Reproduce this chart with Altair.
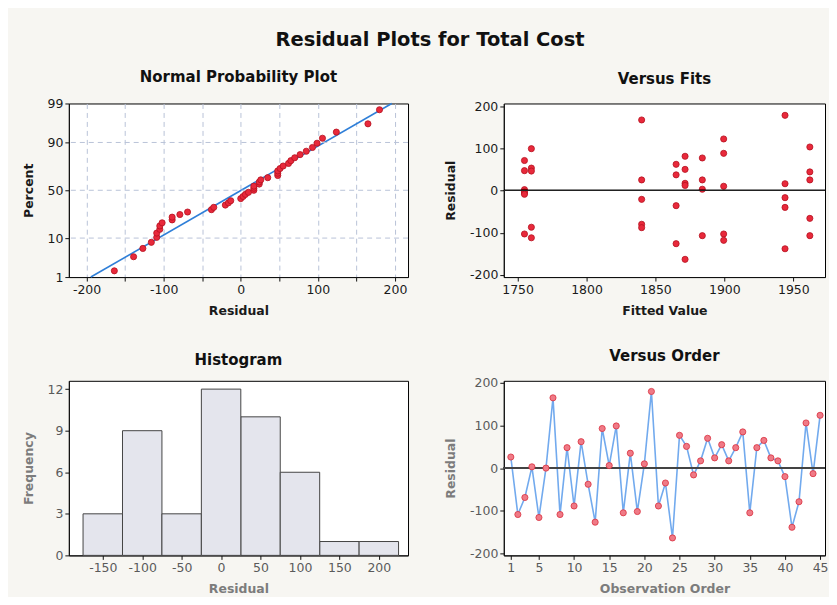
import altair as alt
import pandas as pd
import numpy as np
from statistics import NormalDist

FONT = "DejaVu Sans"

# Residuals in observation order (read from "Versus Order")
order_resid = [26, -109, -69, 3, -116, 0, 165, -109, 48, -89, 62, -38, -127, 93, 6,
               99, -105, 35, -102, 10, 180, -89, -35, -164, 77, 51, -16, 17, 70, 24,
               55, 17, 48, 85, -105, 48, 65, 24, 17, -20, -139, -79, 106, -13, 124]
order_idx = list(range(1, len(order_resid) + 1))

# Versus Fits
fits_x = [1755] * 7 + [1760] * 5 + [1840] * 5 + [1865] * 4 + [1871.5] * 5 + [1884] * 4 \
         + [1899.5] * 5 + [1944] * 5 + [1962] * 5
fits_resid = [71, 47, 2, -3, -6, -9, -103,
              99, 53, 46, -87, -112,
              167, 25, -21, -80, -88,
              62, 37, -36, -126,
              81, 50, 17, 12, -163,
              77, 25, 3, -107,
              122, 88, 10, -103, -118,
              178, 16, -17, -40, -138,
              103, 44, 25, -66, -107]

pct_ticks = [1, 10, 50, 90, 99]
pct_grid = [10, 50, 90]
np_x_ticks = [-200, -150, -100, -50, 0, 50, 100, 150, 200]
hist_ticks = [-150, -100, -50, 0, 50, 100, 150, 200]
order_ticks = [1, 5, 10, 15, 20, 25, 30, 35, 40, 45]
resid_ticks = [-200, -100, 0, 100, 200]
fit_ticks = [1750, 1800, 1850, 1900, 1950]

nd = NormalDist()
n = len(order_resid)
srt = sorted(order_resid)
np_df = pd.DataFrame({"resid": srt,
                      "z": [nd.inv_cdf((i + 1 - 0.3) / (n + 0.4)) for i in range(n)]})
mu = float(np.mean(order_resid))
sd = float(np.std(order_resid, ddof=1))
zlo, zhi = nd.inv_cdf(0.01), nd.inv_cdf(0.99)
line_df = pd.DataFrame({"resid": [mu + zlo * sd, mu + zhi * sd], "z": [zlo, zhi]})
pct_z = [nd.inv_cdf(p / 100) for p in pct_ticks]
grid_df = pd.DataFrame({"z": [nd.inv_cdf(p / 100) for p in pct_grid]})

order_df = pd.DataFrame({"obs": order_idx, "resid": order_resid})
fits_df = pd.DataFrame({"fit": fits_x, "resid": fits_resid})

RED = "#e8293b"
RED_DARK = "#b5121f"
BLUE = "#2f7fd8"
LBLUE = "#72aaee"
GRID = "#b9c3d8"
FADE_LABEL = "#5a5a5a"
FADE_TITLE = "#7c7c7c"

LW = 340
RW = 322
H1 = 174
H2 = 175

MINUS = "replace(datum.label, '\u2212', '-')"


def ptitle(t):
    return alt.TitleParams(t, fontSize=15, font=FONT, fontWeight="bold", color="#111", offset=13)


# ---------- Normal probability plot ----------
np_x = alt.X("resid:Q", scale=alt.Scale(domain=[-223, 217], nice=False, zero=False),
             axis=alt.Axis(values=np_x_ticks, grid=True, gridDash=[5, 4], gridColor=GRID,
                           labelExpr="datum.value % 100 == 0 ? " + MINUS + " : ''",
                           title="Residual"))
np_y = alt.Y("z:Q", scale=alt.Scale(domain=[zlo, zhi], nice=False, zero=False),
             axis=alt.Axis(values=pct_z, grid=False,
                           labelExpr="datum.value < -1.8 ? '1' : datum.value < -0.6 ? '10' : datum.value < 0.6 ? '50' : datum.value < 1.8 ? '90' : '99'",
                           title="Percent"))
np_grid = alt.Chart(grid_df).mark_rule(color=GRID, strokeDash=[5, 4], strokeWidth=1).encode(y="z:Q")
np_line = alt.Chart(line_df).mark_line(color=BLUE, strokeWidth=1.6).encode(x=np_x, y=np_y)
np_pts = alt.Chart(np_df).mark_point(filled=True, shape="circle", size=38, color=RED,
                                     stroke=RED_DARK, strokeWidth=0.8, opacity=1).encode(x=np_x, y=np_y)
normal = alt.layer(np_line, np_grid, np_pts).properties(width=LW, height=H1,
                                                        title=ptitle("Normal Probability Plot"))

# ---------- Versus fits ----------
fx = alt.X("fit:Q", scale=alt.Scale(domain=[1740, 1973], nice=False, zero=False),
           axis=alt.Axis(values=fit_ticks, format="d", title="Fitted Value"))
fy = alt.Y("resid:Q", scale=alt.Scale(domain=[-205, 206], nice=False, zero=False),
           axis=alt.Axis(values=resid_ticks, labelExpr=MINUS, title="Residual"))
fits_zero = alt.Chart(fits_df).mark_rule(color="#222", strokeWidth=1).encode(y=alt.datum(0))
fits_pts = alt.Chart(fits_df).mark_point(filled=True, shape="circle", size=38, color=RED,
                                         stroke=RED_DARK, strokeWidth=0.8, opacity=1).encode(x=fx, y=fy)
fits = alt.layer(fits_pts, fits_zero).properties(width=RW, height=H1, title=ptitle("Versus Fits"))

# ---------- Histogram ----------
hist = alt.Chart(order_df).transform_bin(
    "bin", "resid", bin=alt.Bin(extent=[-175, 225], step=50, nice=False)
).transform_aggregate(
    count="count()", groupby=["bin", "bin_end"]
).mark_bar(fill="#e4e5ed", stroke="#444444", strokeWidth=1).encode(
    x=alt.X("bin:Q", scale=alt.Scale(domain=[-193, 237], nice=False, zero=False),
            axis=alt.Axis(values=hist_ticks, labelExpr=MINUS, title="Residual",
                          labelColor=FADE_LABEL, titleColor=FADE_TITLE)),
    x2="bin_end:Q",
    y=alt.Y("count:Q", scale=alt.Scale(domain=[0, 12.6], nice=False),
            axis=alt.Axis(values=[0, 3, 6, 9, 12], title="Frequency",
                          labelColor=FADE_LABEL, titleColor=FADE_TITLE)),
    y2=alt.datum(0),
).properties(width=LW, height=H2, title=ptitle("Histogram"))

# ---------- Versus order ----------
ox = alt.X("obs:Q", scale=alt.Scale(domain=[0, 45.7], nice=False, zero=False),
           axis=alt.Axis(values=order_ticks, labelOverlap=False, title="Observation Order",
                         labelColor=FADE_LABEL, titleColor=FADE_TITLE))
oy = alt.Y("resid:Q", scale=alt.Scale(domain=[-205, 205], nice=False, zero=False),
           axis=alt.Axis(values=resid_ticks, labelExpr=MINUS, title="Residual",
                         labelColor=FADE_LABEL, titleColor=FADE_TITLE))
o_line = alt.Chart(order_df).mark_line(color=LBLUE, strokeWidth=1.6).encode(x=ox, y=oy)
o_zero = alt.Chart(order_df).mark_rule(color="#444", strokeWidth=1).encode(y=alt.datum(0))
o_pts = alt.Chart(order_df).mark_point(filled=True, shape="circle", size=38, color="#ef7a86",
                                       stroke="#d9303f", strokeWidth=0.8, opacity=1).encode(x=ox, y=oy)
order = alt.layer(o_line, o_zero, o_pts).properties(width=RW, height=H2, title=ptitle("Versus Order"))

top = alt.hconcat(normal, fits, spacing=35)
bottom = alt.hconcat(hist, order, spacing=35)

chart = alt.vconcat(top, bottom, spacing=30).properties(
    title=alt.TitleParams("Residual Plots for Total Cost", fontSize=19.5, font=FONT, fontWeight="bold",
                          color="#111", anchor="middle", offset=19, dx=5),
    padding={"left": 13, "top": 21, "right": 0, "bottom": 0},
).configure(background="#f7f6f2").configure_view(
    stroke="black", strokeWidth=1, fill="white"
).configure_axis(
    labelFont=FONT, labelFontSize=12.5, labelColor="#1a1a1a", titleFont=FONT, titleFontSize=12.5,
    titleFontWeight="bold", titleColor="#1a1a1a", tickColor="#111", tickSize=4, domainColor="#111",
    labelPadding=2, grid=False, labelOverlap=False
).configure_axisX(titlePadding=9).configure_axisY(titlePadding=12)

chart.save("out.html", embed_options={"renderer": "svg", "actions": False})
